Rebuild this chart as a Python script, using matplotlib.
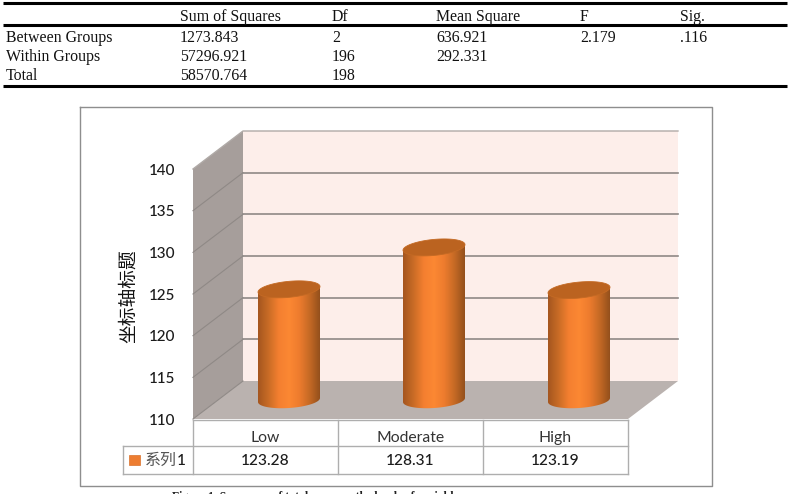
import matplotlib
matplotlib.use('Agg')
import matplotlib.pyplot as plt
from matplotlib.colors import LinearSegmentedColormap
from matplotlib.patches import Polygon
import numpy as np

W, H = 789, 494

# anova table
table_header = ['Sum of Squares', 'Df', 'Mean Square', 'F', 'Sig.']
table_rows = [['Between Groups', '1273.843', '2', '636.921', '2.179', '.116'],
              ['Within Groups', '57296.921', '196', '292.331', '', ''],
              ['Total', '58570.764', '198', '', '', '']]
table_x = [6, 180, 332, 436, 580, 680]
table_y = [38, 57, 76]

# bar data
categories = ['Low', 'Moderate', 'High']
values = [123.28, 128.31, 123.19]
series_name = '系列'
series_num = '1'
y_title = '坐标轴标题'
y_ticks = [110, 115, 120, 125, 130, 135, 140]
caption = 'Figure 1. Summary of total score on the levels of variable'

fig = plt.figure(figsize=(W/100, H/100), dpi=100)

# background layer in pixel coordinates, y pointing down
bg = fig.add_axes([0, 0, 1, 1])
bg.set_xlim(0, W)
bg.set_ylim(H, 0)
bg.axis('off')

serif = 'Liberation Serif'
for ypos in [3.5, 25, 86]:
    bg.plot([3, 787], [ypos, ypos], color='black', lw=2.2, solid_capstyle='butt')
for xpos, label in zip(table_x[1:], table_header):
    bg.text(xpos, 17, label, family=serif, fontsize=11.4, va='center', color='#111111')
for row, ypos in zip(table_rows, table_y):
    for xpos, cell in zip(table_x, row):
        bg.text(xpos, ypos, cell, family=serif, fontsize=11.4, va='center', color='#111111')

# chart frame
bg.plot([80.5, 712.5, 712.5, 80.5, 80.5], [107.5, 107.5, 486, 486, 107.5], color='#8e8e8e', lw=1)
bg.text(172, 496.5, caption, family=serif, fontsize=8.5, fontweight='bold', color='#222222', va='center')

# the front plane of the 3d box: one unit per category, values on y
ax = fig.add_axes([193/W, 1-419/H, 435/W, 250/H])
ax.patch.set_alpha(0)
for s in ax.spines.values():
    s.set_visible(False)

depth_x = 50/145
depth_y = 38/(250/30)

def box(x, v, d):
    # d is the depth, 0 at the front and 1 at the back wall
    return (x + d*depth_x, v + d*depth_y)

# walls
ax.add_patch(Polygon([box(0, 110, 1), box(3, 110, 1), box(3, 140, 1), box(0, 140, 1)],
                     fc='#fdeeea', ec='none', clip_on=False, zorder=1))
ax.add_patch(Polygon([box(0, 110, 0), box(3, 110, 0), box(3, 110, 1), box(0, 110, 1)],
                     fc='#bab2af', ec='none', clip_on=False, zorder=1))
ax.add_patch(Polygon([box(0, 110, 0), box(0, 140, 0), box(0, 140, 1), box(0, 110, 1)],
                     fc='#a69e9b', ec='none', clip_on=False, zorder=1))

# gridlines run along the side wall and the back wall
for v in y_ticks[1:]:
    xs, ys = zip(box(0, v, 0), box(0, v, 1), box(3, v, 1))
    if v == 140:
        ax.plot(xs, ys, color='#b0aaa7', lw=1, clip_on=False, zorder=2)
    else:
        ax.plot(xs[:2], ys[:2], color='#8f8986', lw=0.8, clip_on=False, zorder=2)
        ax.plot(xs[1:], ys[1:], color='#8f8986', lw=1.2, clip_on=False, zorder=2)
xs, ys = zip(box(0, 110, 0), box(0, 110, 1))
ax.plot(xs, ys, color='#8f8986', lw=0.8, clip_on=False, zorder=2)

# cylinders
body_cmap = LinearSegmentedColormap.from_list('body', ['#a5561f', '#c96c26', '#f47f30', '#fc8833',
                                                       '#ee7c2e', '#c66a25', '#94501c'])
half_w = 31/145
half_h = 8/(250/30)
t = np.linspace(0, 2*np.pi, 121)
for i, val in enumerate(values):
    cx = i + 0.5 + 0.47*depth_x
    base = 110 + 0.5*depth_y
    top = val + 0.5*depth_y
    # side: front half of the base ellipse up to the top ellipse
    lower = t[t >= np.pi]
    lx = cx + half_w*np.cos(lower)
    ly = base + half_h*np.sin(lower) + 0.25*half_h*np.cos(lower)
    outline = list(zip(lx, ly)) + [(cx + half_w, top + 0.35*half_h), (cx - half_w, top - 0.35*half_h)]
    im = ax.imshow(np.linspace(0, 1, 128).reshape(1, -1), cmap=body_cmap, aspect='auto',
                   extent=[cx - half_w, cx + half_w, base - half_h*1.4, top + half_h*1.4],
                   zorder=3)
    clip = Polygon(outline, transform=ax.transData, fc='none', ec='none')
    ax.add_patch(clip)
    im.set_clip_path(clip)
    ox = half_w*np.cos(t)
    oy = half_h*np.sin(t) + 0.35*half_h*np.cos(t)
    ax.add_patch(Polygon(list(zip(cx + ox, top + oy)), fc='#bb6320', ec='#c46a24', lw=0.6,
                         clip_on=False, zorder=4))
ax.set_xlim(0, 3)
ax.set_ylim(110, 140)

# axis labels
ax.set_yticks(y_ticks)
ax.set_yticklabels([str(v) for v in y_ticks], family='Lato', fontsize=11, fontweight='medium', color='#1c1c1c')
ax.tick_params(axis='y', length=0, pad=12.5)
ax.set_xticks([0.5, 1.5, 2.5])
ax.set_xticklabels(categories, family='Lato', fontsize=11.3, color='#333333')
ax.tick_params(axis='x', length=0, pad=8.5)

# data table under the box
lc = '#aeaeae'
for xpos in [193, 338, 483, 628]:
    bg.plot([xpos, xpos], [420, 474], color=lc, lw=1, zorder=5)
bg.plot([123, 123], [446, 474], color=lc, lw=1, zorder=5)
bg.plot([193, 628], [420, 420], color=lc, lw=1, zorder=5)
bg.plot([123, 628], [446, 446], color=lc, lw=1, zorder=5)
bg.plot([123, 628], [474, 474], color=lc, lw=1, zorder=5)
for i, val in enumerate(values):
    ax.annotate(f'{val:.2f}', xy=(i + 0.5, 110), xytext=(0, -(461-419)*0.72), textcoords='offset points',
                ha='center', va='center', family='Lato', fontsize=11.2, fontweight='medium',
                color='#1c1c1c', annotation_clip=False)
bg.add_patch(plt.Rectangle((129, 455), 11, 10, fc='#ed7d31', ec='#d9722c', lw=0.5))
bg.text(145, 460, series_name, family='Noto Sans CJK SC', fontsize=11.5, color='#555555', va='center')
bg.text(177, 461, series_num, family='Lato', fontsize=11.2, fontweight='medium', color='#1c1c1c', va='center')
bg.text(128, 296, y_title, family='Noto Sans CJK SC', fontsize=13.5, fontweight='medium', rotation=90,
        ha='center', va='center', color='#111111')

fig.savefig('out.png', dpi=100)
plt.close(fig)
